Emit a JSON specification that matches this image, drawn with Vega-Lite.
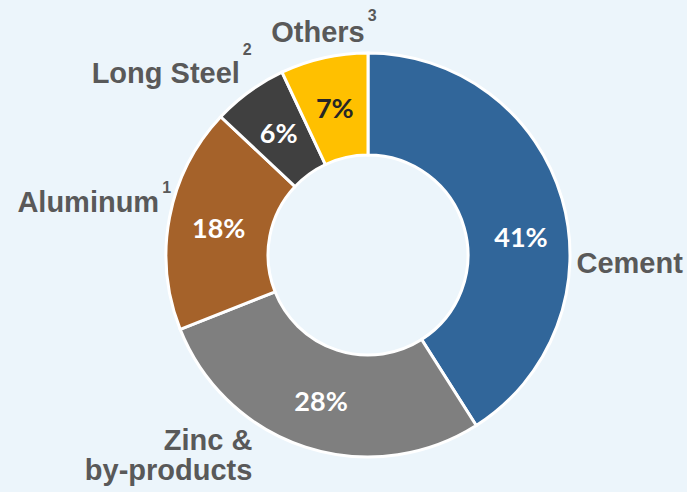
{
  "$schema": "https://vega.github.io/schema/vega-lite/v6.json",
  "width": 638,
  "height": 474,
  "autosize": {"type": "none"},
  "padding": {"left": 49, "top": 18, "right": 0, "bottom": 0},
  "background": "#ECF5FB",
  "config": {"view": {"stroke": null}},
  "data": {
    "values": [
      {"segment": "Cement", "share": 41, "label": "Cement", "note": "", "pct": "41%"},
      {"segment": "Zinc", "share": 28, "label": "Zinc &\nby-products", "note": "", "pct": "28%"},
      {"segment": "Aluminum", "share": 18, "label": "Aluminum", "note": "1", "pct": "18%"},
      {"segment": "Long Steel", "share": 6, "label": "Long Steel", "note": "2", "pct": "6%"},
      {"segment": "Others", "share": 7, "label": "Others", "note": "3", "pct": "7%"}
    ]
  },
  "transform": [{"window": [{"op": "row_number", "as": "idx"}]}],
  "encoding": {
    "theta": {"field": "share", "type": "quantitative", "stack": true},
    "order": {"field": "idx", "type": "quantitative"}
  },
  "layer": [
    {
      "mark": {"type": "arc", "innerRadius": 100, "outerRadius": 202, "stroke": "white", "strokeWidth": 3},
      "encoding": {
        "color": {
          "field": "segment", "type": "nominal", "legend": null,
          "scale": {
            "domain": ["Cement", "Zinc", "Aluminum", "Long Steel", "Others"],
            "range": ["#31669A", "#7F7F7F", "#A5622A", "#404040", "#FFC000"]
          }
        }
      }
    },
    {
      "mark": {"type": "text", "radius": 152, "font": "Lato", "fontWeight": "bold", "fontSize": 27, "align": "center", "baseline": "middle", "dy": 3},
      "encoding": {
        "text": {"condition": {"test": "datum.segment !== 'Cement'", "field": "pct"}, "value": ""},
        "color": {"condition": {"test": "datum.segment === 'Others'", "value": "#262626"}, "value": "#FFFFFF"}
      }
    },
    {
      "mark": {"type": "text", "radius": 152, "font": "Lato", "fontWeight": "bold", "fontSize": 27, "align": "center", "baseline": "middle", "color": "#FFFFFF", "dx": 7, "dy": 26},
      "encoding": {
        "text": {"condition": {"test": "datum.segment === 'Cement'", "field": "pct"}, "value": ""}
      }
    },
    {
      "mark": {"type": "text", "radius": 235, "font": "Liberation Sans", "fontWeight": "bold", "fontSize": 29, "align": "center", "baseline": "middle", "color": "#595959", "dx": 36, "dy": 75},
      "encoding": {
        "text": {"condition": {"test": "datum.segment === 'Cement'", "field": "label"}, "value": ""}
      }
    },
    {
      "mark": {"type": "text", "radius": 235, "font": "Liberation Sans", "fontWeight": "bold", "fontSize": 29, "align": "right", "baseline": "alphabetic", "lineBreak": "\n", "lineHeight": 30, "color": "#595959", "dx": -43, "dy": -28},
      "encoding": {
        "text": {"condition": {"test": "datum.segment === 'Zinc'", "field": "label"}, "value": ""}
      }
    },
    {
      "mark": {"type": "text", "radius": 235, "font": "Liberation Sans", "fontWeight": "bold", "fontSize": 29, "align": "right", "baseline": "alphabetic", "color": "#595959", "dx": 22, "dy": 1},
      "encoding": {
        "text": {"condition": {"test": "datum.segment === 'Aluminum'", "field": "label"}, "value": ""}
      }
    },
    {
      "mark": {"type": "text", "radius": 235, "font": "Liberation Sans", "fontWeight": "bold", "fontSize": 29, "align": "right", "baseline": "alphabetic", "color": "#595959", "dx": 10, "dy": 18},
      "encoding": {
        "text": {"condition": {"test": "datum.segment === 'Long Steel'", "field": "label"}, "value": ""}
      }
    },
    {
      "mark": {"type": "text", "radius": 235, "font": "Liberation Sans", "fontWeight": "bold", "fontSize": 29, "align": "right", "baseline": "alphabetic", "color": "#595959", "dx": 48, "dy": 16},
      "encoding": {
        "text": {"condition": {"test": "datum.segment === 'Others'", "field": "label"}, "value": ""}
      }
    },
    {
      "mark": {"type": "text", "radius": 235, "font": "Liberation Sans", "fontWeight": "bold", "fontSize": 16, "align": "left", "baseline": "alphabetic", "color": "#595959", "dx": 25, "dy": -18},
      "encoding": {
        "text": {"condition": {"test": "datum.segment === 'Aluminum'", "field": "note"}, "value": ""}
      }
    },
    {
      "mark": {"type": "text", "radius": 235, "font": "Liberation Sans", "fontWeight": "bold", "fontSize": 16, "align": "left", "baseline": "alphabetic", "color": "#595959", "dx": 13, "dy": -10},
      "encoding": {
        "text": {"condition": {"test": "datum.segment === 'Long Steel'", "field": "note"}, "value": ""}
      }
    },
    {
      "mark": {"type": "text", "radius": 235, "font": "Liberation Sans", "fontWeight": "bold", "fontSize": 16, "align": "left", "baseline": "alphabetic", "color": "#595959", "dx": 51, "dy": -5},
      "encoding": {
        "text": {"condition": {"test": "datum.segment === 'Others'", "field": "note"}, "value": ""}
      }
    }
  ]
}
